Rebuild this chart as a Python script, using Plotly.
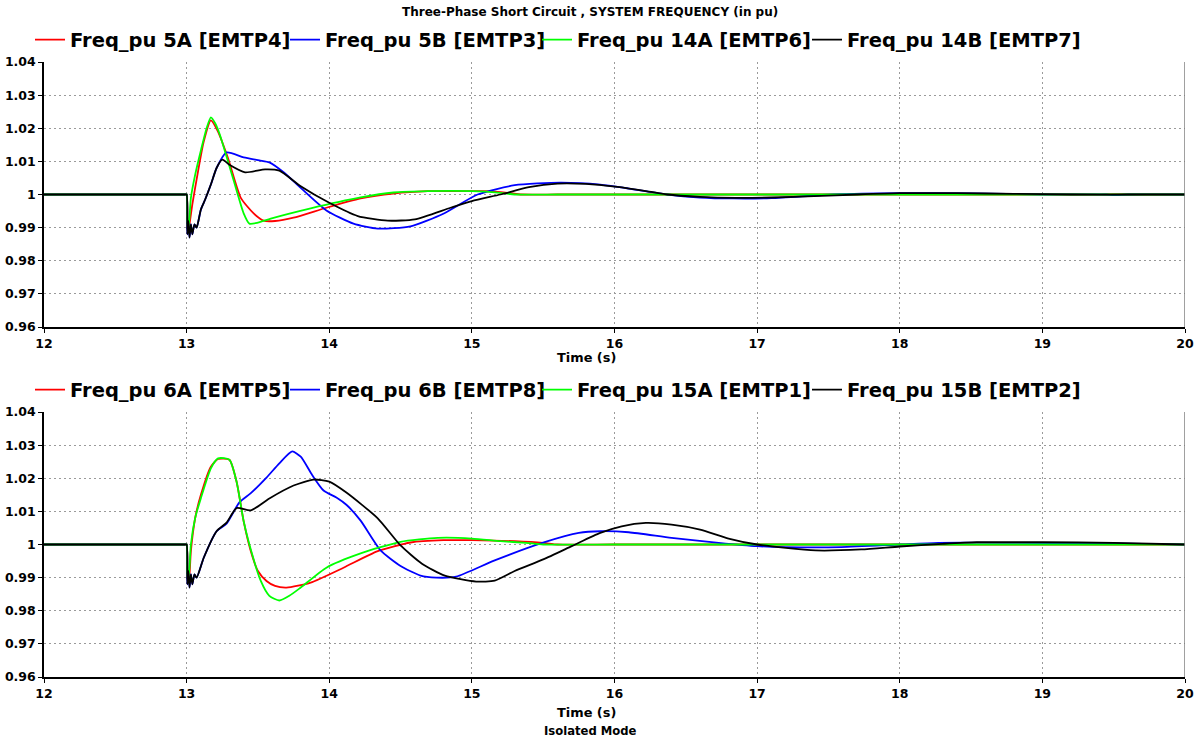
import plotly.graph_objects as go

# ---------------- data ----------------
t_5A = [12, 12.5, 12.99, 13.0, 13.005, 13.01, 13.02, 13.04, 13.08, 13.12, 13.17, 13.22, 13.29, 13.38, 13.47, 13.54,
        13.62, 13.75, 13.98, 14.22, 14.45, 14.69, 14.9, 15.1, 15.25, 15.35, 15.6, 16, 17, 18, 19, 20]
v_5A = [1, 1, 1, 1, 0.992, 0.989, 0.991, 0.997, 1.007, 1.016, 1.0224, 1.019, 1.011, 0.999, 0.9943, 0.9921,
        0.992, 0.993, 0.996, 0.9988, 1.0003, 1.001, 1.001, 1.001, 1.0005, 1.0, 1.0, 1.0, 1.0, 1.0, 1.0, 1.0]

t_5B = [12, 12.5, 12.99, 13.0, 13.005, 13.012, 13.02, 13.03, 13.04, 13.055, 13.07, 13.1, 13.13, 13.17, 13.21, 13.28,
        13.4, 13.51, 13.58, 13.68, 13.8, 13.98, 14.17, 14.34, 14.57, 14.8, 15.04, 15.3, 15.62, 15.9, 16.1, 16.37,
        16.6, 16.83, 17.1, 17.53, 18.0, 18.5, 19.0, 19.45, 19.5, 19.6, 20]
v_5B = [1, 1, 1, 1, 0.988, 0.992, 0.987, 0.991, 0.988, 0.991, 0.990, 0.9955, 0.9985, 1.003, 1.008, 1.0127,
        1.0112, 1.0103, 1.0097, 1.0067, 1.002, 0.9952, 0.9912, 0.9897, 0.9904, 0.9942, 1.0, 1.0028, 1.0036, 1.003,
        1.0018, 1.0, 0.9991, 0.9988, 0.9989, 1.0, 1.0004, 1.0003, 1.0, 1.0, 0.9998, 1.0, 1.0]

t_14A = [12, 12.5, 12.99, 13.0, 13.005, 13.01, 13.02, 13.03, 13.06, 13.1, 13.14, 13.17, 13.2, 13.23, 13.33, 13.4,
         13.44, 13.5, 13.59, 13.87, 14.22, 14.45, 14.69, 15.0, 15.2, 15.3, 15.6, 16, 17, 18, 19, 20]
v_14A = [1, 1, 1, 1, 0.993, 0.989, 0.993, 0.999, 1.006, 1.0133, 1.020, 1.0233, 1.0215, 1.0184, 1.0042, 0.9943,
         0.9912, 0.9915, 0.9927, 0.9958, 0.9991, 1.0006, 1.001, 1.001, 1.0005, 1.0, 1.0, 1.0, 1.0, 1.0, 1.0, 1.0]

t_14B = [12, 12.5, 12.99, 13.0, 13.005, 13.012, 13.02, 13.03, 13.04, 13.055, 13.07, 13.1, 13.13, 13.17, 13.21, 13.25,
         13.3, 13.41, 13.55, 13.65, 13.8, 14.0, 14.2, 14.41, 14.6, 14.85, 15.0, 15.2, 15.4, 15.6, 15.8, 16.02, 16.2,
         16.37, 16.6, 16.85, 17.1, 17.4, 17.7, 18.0, 18.4, 18.8, 19.2, 19.6, 20]
v_14B = [1, 1, 1, 1, 0.988, 0.992, 0.987, 0.991, 0.988, 0.991, 0.990, 0.9955, 0.9985, 1.003, 1.008, 1.0105,
         1.009, 1.0067, 1.0076, 1.0072, 1.0025, 0.9975, 0.9935, 0.9921, 0.9925, 0.996, 0.998, 1.0, 1.0022, 1.0033,
         1.0032, 1.0023, 1.0012, 1.0, 0.9993, 0.999, 0.9991, 0.9995, 1.0, 1.0004, 1.0004, 1.0002, 1.0, 1.0, 1.0]

t_6A = [12, 12.5, 12.99, 13.0, 13.005, 13.01, 13.02, 13.03, 13.06, 13.1, 13.17, 13.22, 13.3, 13.35, 13.4, 13.45,
        13.5, 13.56, 13.62, 13.70, 13.87, 14.1, 14.34, 14.57, 14.8, 15.0, 15.3, 15.5, 15.6, 16, 17, 18, 19, 20]
v_6A = [1, 1, 1, 1, 0.992, 0.989, 0.991, 0.998, 1.008, 1.015, 1.0235, 1.0258, 1.0256, 1.019, 1.007, 0.998,
        0.992, 0.989, 0.9875, 0.987, 0.9885, 0.993, 0.998, 1.0006, 1.0013, 1.0013, 1.001, 1.0005, 1.0, 1.0, 1.0,
        1.0, 1.0, 1.0]

t_6B = [12, 12.5, 12.99, 13.0, 13.005, 13.012, 13.02, 13.03, 13.04, 13.055, 13.07, 13.12, 13.21, 13.28, 13.37, 13.45,
        13.56, 13.65, 13.74, 13.8, 13.88, 13.96, 14.05, 14.12, 14.22, 14.36, 14.5, 14.64, 14.75, 14.89, 15.16,
        15.51, 15.75, 15.9, 16.1, 16.4, 16.73, 17.0, 17.19, 17.59, 18.0, 18.27, 18.8, 19.3, 19.7, 20]
v_6B = [1, 1, 1, 1, 0.988, 0.992, 0.987, 0.991, 0.988, 0.991, 0.990, 0.996, 1.004, 1.0063, 1.0127, 1.0155,
        1.0202, 1.0245, 1.0281, 1.0265, 1.021, 1.0163, 1.0142, 1.012, 1.0072, 0.9982, 0.9935, 0.9906, 0.990,
        0.9903, 0.9952, 1.0007, 1.0035, 1.004, 1.0037, 1.002, 1.0005, 0.9995, 0.9992, 0.9992, 1.0, 1.0005, 1.0005,
        1.0004, 1.0002, 1.0]

t_15A = [12, 12.5, 12.99, 13.0, 13.005, 13.01, 13.02, 13.03, 13.06, 13.1, 13.17, 13.22, 13.3, 13.35, 13.4, 13.44,
         13.52, 13.58, 13.65, 13.72, 13.8, 13.98, 14.22, 14.5, 14.76, 15.0, 15.2, 15.38, 15.5, 16, 17, 18, 19, 20]
v_15A = [1, 1, 1, 1, 0.992, 0.989, 0.993, 1.0, 1.008, 1.014, 1.023, 1.026, 1.0256, 1.019, 1.007, 1.0, 0.989,
         0.9845, 0.9831, 0.9845, 0.987, 0.993, 0.9973, 1.0008, 1.002, 1.0018, 1.001, 1.0005, 1.0, 1.0, 1.0, 1.0,
         1.0, 1.0]

t_15B = [12, 12.5, 12.99, 13.0, 13.005, 13.012, 13.02, 13.03, 13.04, 13.055, 13.07, 13.12, 13.21, 13.28, 13.35,
         13.45, 13.58, 13.75, 13.89, 14.0, 14.12, 14.34, 14.5, 14.65, 14.81, 15.03, 15.16, 15.3, 15.5, 15.7, 15.9,
         16.05, 16.22, 16.4, 16.6, 16.8, 17.0, 17.41, 17.73, 18.0, 18.3, 18.54, 19.0, 19.5, 20]
v_15B = [1, 1, 1, 1, 0.988, 0.992, 0.987, 0.991, 0.988, 0.991, 0.990, 0.996, 1.004, 1.0066, 1.011, 1.0103,
         1.0139, 1.0178, 1.0196, 1.019, 1.0157, 1.0079, 0.9997, 0.9942, 0.9906, 0.9888, 0.9891, 0.992, 0.9955,
         0.9995, 1.0035, 1.0055, 1.0065, 1.006, 1.0045, 1.0018, 1.0, 0.9982, 0.9985, 0.9994, 1.0002, 1.0007,
         1.0007, 1.0005, 1.0]

top_names = ["Freq_pu 5A [EMTP4]", "Freq_pu 5B [EMTP3]", "Freq_pu 14A [EMTP6]", "Freq_pu 14B [EMTP7]"]
bot_names = ["Freq_pu 6A [EMTP5]", "Freq_pu 6B [EMTP8]", "Freq_pu 15A [EMTP1]", "Freq_pu 15B [EMTP2]"]
colors = ["#FF0000", "#0000FF", "#00FF00", "#000000"]

x_ticks = [12, 13, 14, 15, 16, 17, 18, 19, 20]
y_ticks = [0.96, 0.97, 0.98, 0.99, 1.0, 1.01, 1.02, 1.03, 1.04]
y_ticktext = ["0.96", "0.97", "0.98", "0.99", "1", "1.01", "1.02", "1.03", "1.04"]

# ---------------- figure ----------------
W, H = 1200, 740
L, R = 44, 1185
FONT = "DejaVu Sans, Verdana, sans-serif"

def py(px):
    return 1 - px / H

def pxx(px):
    return (px - L) / (R - L)

# legend text start positions (px) for the 4 entries of each panel
leg_text_x = [70, 325, 577, 847]
leg_y_top, leg_y_bot = 40, 390

fig = go.Figure()
top_series = [(t_5A, v_5A), (t_5B, v_5B), (t_14A, v_14A), (t_14B, v_14B)]
bot_series = [(t_6A, v_6A), (t_6B, v_6B), (t_15A, v_15A), (t_15B, v_15B)]
legend_layouts = {}
k = 0
for series, names, xa, ya, ly in [(top_series, top_names, "x", "y", leg_y_top),
                                  (bot_series, bot_names, "x2", "y2", leg_y_bot)]:
    for i, ((t, v), n, c) in enumerate(zip(series, names, colors)):
        k += 1
        lname = "legend" if k == 1 else f"legend{k}"
        fig.add_trace(go.Scatter(x=t, y=v, name=n, mode="lines", xaxis=xa, yaxis=ya,
                                 line=dict(color=c, width=1.8, shape="spline", smoothing=0.6),
                                 legend=lname))
        legend_layouts[lname] = dict(orientation="h", x=pxx(leg_text_x[i] - 40), xanchor="left",
                                     y=py(ly), yanchor="middle", borderwidth=0,
                                     font=dict(family=FONT, size=19.5, color="#000000", weight="bold"),
                                     bgcolor="rgba(0,0,0,0)")

TICKFONT = dict(family=FONT, size=12.5, color="#000000", weight="bold")
axis_common = dict(range=[12, 20], tickvals=x_ticks, ticktext=[str(v) for v in x_ticks],
                   showgrid=True, gridcolor="#9A9A9A", griddash="2px,3px", gridwidth=1,
                   showline=True, linecolor="#000000", linewidth=1.5, ticks="outside", ticklen=4,
                   tickcolor="#000000", zeroline=False, tickfont=TICKFONT)
yaxis_common = dict(range=[0.96, 1.04], tickvals=y_ticks, ticktext=y_ticktext,
                    showgrid=True, gridcolor="#9A9A9A", griddash="2px,3px", gridwidth=1,
                    showline=True, linecolor="#000000", linewidth=1.5, ticks="outside", ticklen=4,
                    tickcolor="#000000", zeroline=False, tickfont=TICKFONT)

fig.update_layout(
    width=W, height=H,
    margin=dict(l=L, r=W - R, t=0, b=0, autoexpand=False),
    paper_bgcolor="white", plot_bgcolor="white",
    xaxis=dict(domain=[0, 1], anchor="y", automargin=False, **axis_common),
    yaxis=dict(domain=[py(327), py(62)], anchor="x", automargin=False, **yaxis_common),
    xaxis2=dict(domain=[0, 1], anchor="y2", automargin=False, **axis_common),
    yaxis2=dict(domain=[py(677), py(412)], anchor="x2", automargin=False, **yaxis_common),
    showlegend=True,
    **legend_layouts,
)

# right border lines
for xr, yr in [("x", "y"), ("x2", "y2")]:
    fig.add_shape(type="line", xref=xr, yref=f"{yr} domain",
                  x0=20, x1=20, y0=0, y1=1, line=dict(color="#808080", width=1.5))

annots = [
    ("<b>Three-Phase Short Circuit , SYSTEM FREQUENCY (in pu)</b>", 590, 12, 12),
    ("<b>Time (s)</b>", 586, 358, 12.9),
    ("<b>Time (s)</b>", 586, 712, 12.9),
    ("<b>Isolated Mode</b>", 590, 731, 11.6),
]
for txt, x, y, s in annots:
    fig.add_annotation(text=txt, xref="paper", yref="paper", x=pxx(x), y=py(y),
                       xanchor="center", yanchor="middle", showarrow=False,
                       font=dict(family=FONT, size=s, color="#000000"))

fig.write_html("out.html")
